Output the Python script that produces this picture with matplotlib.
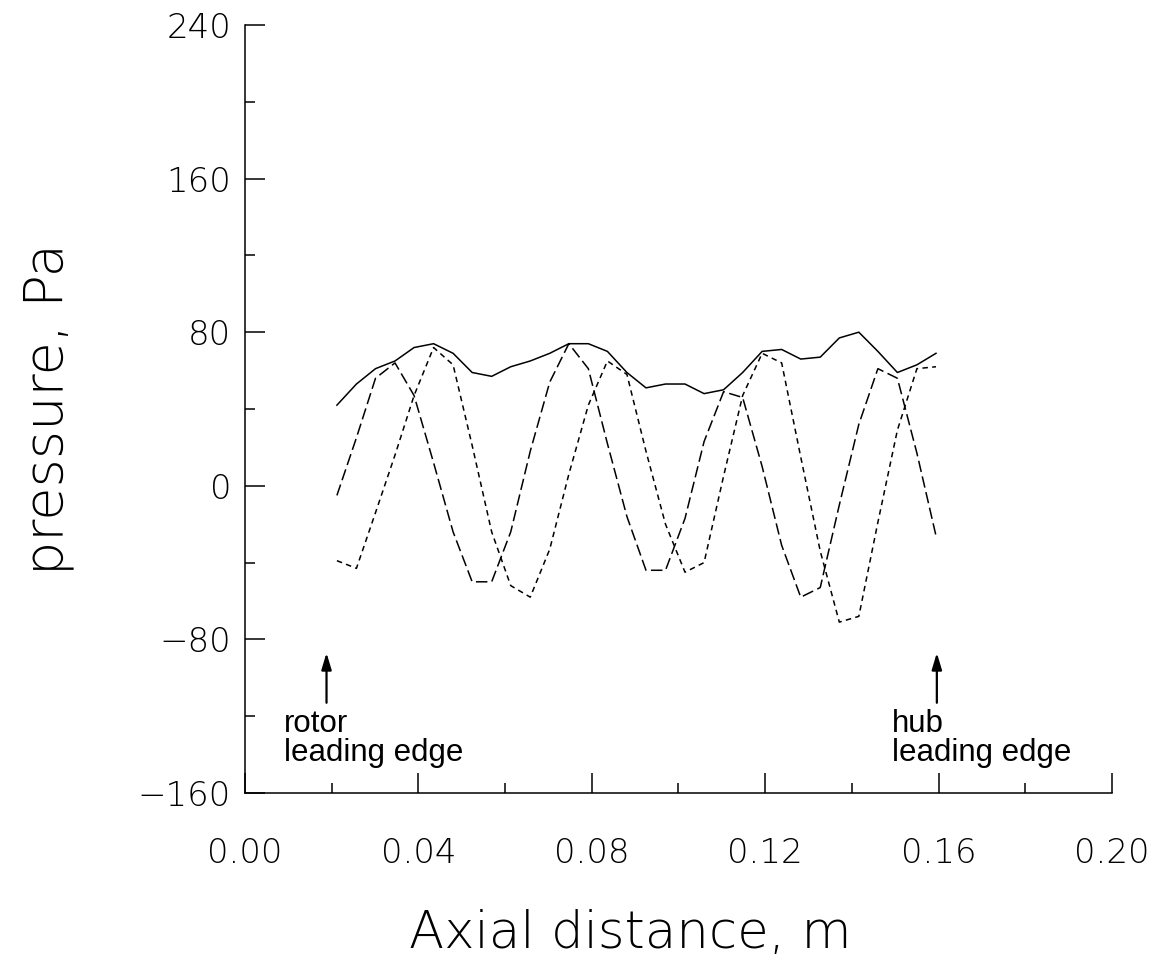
import matplotlib
matplotlib.use("Agg")
import matplotlib.pyplot as plt
from matplotlib.ticker import MultipleLocator, FormatStrFormatter

# axial positions of the computed points, m
axial = [0.0212, 0.0257, 0.0301, 0.0346, 0.0390, 0.0435, 0.0480, 0.0524,
         0.0569, 0.0613, 0.0658, 0.0703, 0.0747, 0.0792, 0.0836, 0.0881,
         0.0925, 0.0970, 0.1015, 0.1059, 0.1104, 0.1148, 0.1193, 0.1238,
         0.1282, 0.1327, 0.1371, 0.1416, 0.1460, 0.1505, 0.1550, 0.1594]

# pressure, Pa
p_solid = [42, 53, 61, 65, 72, 74, 69, 59, 57, 62, 65, 69, 74, 74, 70, 59,
           51, 53, 53, 48, 50, 59, 70, 71, 66, 67, 77, 80, 70, 59, 63, 69]
p_long = [-5, 25, 56, 64, 47, 12, -24, -50, -50, -24, 18, 54, 74, 61, 22, -16,
          -44, -44, -17, 23, 49, 46, 10, -31, -58, -53, -10, 32, 61, 56, 17, -26]
p_short = [-39, -43, -14, 16, 47, 72, 63, 21, -24, -52, -58, -33, 6, 42, 65, 58,
           18, -20, -45, -40, 5, 47, 69, 64, 15, -34, -71, -68, -19, 29, 61, 62]

# marker positions for the leading edges
edge_x = [0.0188, 0.1596]
edge_text = ["rotor\nleading edge", "hub\nleading edge"]
text_x = [0.0090, 0.1493]

fig = plt.figure(figsize=(11.64, 9.71), dpi=100)
ax = fig.add_axes([0.2105, 0.1833, 0.7448, 0.7910])

ax.plot(axial, p_solid, color="black", lw=1.1)
ax.plot(axial, p_long, color="black", lw=1.1, dashes=(7.5, 3.0))
ax.plot(axial, p_short, color="black", lw=1.1, dashes=(3.6, 2.8))

for ex, tx, label in zip(edge_x, text_x, edge_text):
    ax.annotate("", xy=(ex, -87), xytext=(ex, -113),
                arrowprops=dict(arrowstyle="-|>,head_length=1.0,head_width=0.3",
                                color="black", lw=1.6, shrinkA=0, shrinkB=0))
    ax.text(tx, -116.5, label, family="Liberation Sans", fontsize=22.5,
            ha="left", va="top", linespacing=0.95)

ax.set_xlim(0.0, 0.20)
ax.set_ylim(-160, 240)
ax.xaxis.set_major_locator(MultipleLocator(0.04))
ax.xaxis.set_minor_locator(MultipleLocator(0.02))
ax.yaxis.set_major_locator(MultipleLocator(80))
ax.yaxis.set_minor_locator(MultipleLocator(40))
ax.xaxis.set_major_formatter(FormatStrFormatter("%.2f"))

for side in ["top", "right"]:
    ax.spines[side].set_visible(False)
for side in ["left", "bottom"]:
    ax.spines[side].set_linewidth(1.1)

ax.tick_params(which="major", direction="in", length=14.5, width=1.1)
ax.tick_params(which="minor", direction="in", length=7.2, width=1.1)
ax.tick_params(axis="x", which="major", pad=32)
ax.tick_params(axis="y", which="major", pad=10)

for lab in ax.get_xticklabels() + ax.get_yticklabels():
    lab.set_fontsize(24.5)
    lab.set_fontweight("light")

ax.set_xlabel("Axial distance, m", fontsize=37, fontweight="light", labelpad=28)
ax.xaxis.label.set_x(0.444)
ax.set_ylabel("pressure, Pa", fontsize=39, fontweight="light", labelpad=46)

fig.savefig("out.png", dpi=100)
